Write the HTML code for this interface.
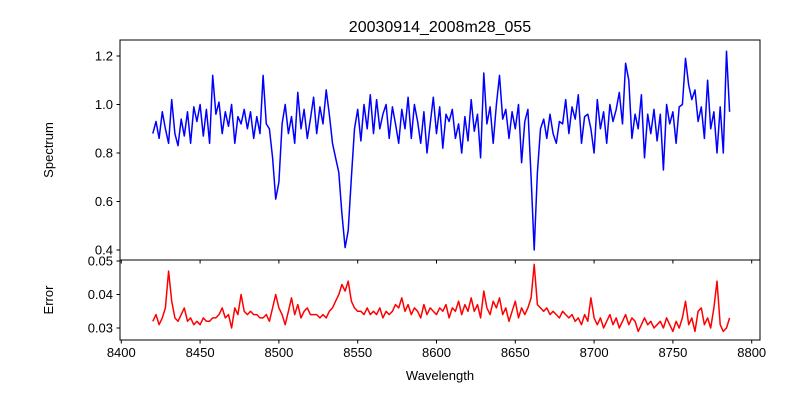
<!DOCTYPE html>
<html><head><meta charset="utf-8"><style>
body{margin:0;background:#fff}
svg text{font-family:"Liberation Sans","DejaVu Sans",sans-serif;fill:#000}
</style></head><body>
<svg id="chart" width="800" height="400" viewBox="0 0 800 400">
<rect width="800" height="400" fill="#fff"/>
<text x="440" y="32" font-size="16" text-anchor="middle">20030914_2008m28_055</text>
<g id="top"></g><g id="bot"></g>
<text transform="translate(53,150) rotate(-90)" font-size="13" text-anchor="middle">Spectrum</text>
<text transform="translate(53,300) rotate(-90)" font-size="13" text-anchor="middle">Error</text>
<text x="440" y="380" font-size="13" text-anchor="middle">Wavelength</text>
</svg>
<script>
const wlStart=8420, wlStep=2;
const flux=[0.88,0.93,0.86,0.97,0.90,0.84,1.02,0.88,0.83,0.94,
0.87,0.97,0.84,0.99,0.93,1.00,0.87,0.98,0.84,1.12,
0.96,1.01,0.88,0.97,0.91,1.00,0.84,0.95,0.92,0.98,
0.90,0.97,0.86,0.95,0.88,1.12,0.92,0.90,0.78,0.61,
0.68,0.92,1.00,0.88,0.95,0.84,1.05,0.90,0.98,0.86,
0.94,1.03,0.88,0.99,0.92,1.06,0.96,0.84,0.78,0.72,
0.55,0.41,0.48,0.70,0.90,0.98,0.85,1.00,0.90,1.04,
0.88,1.02,0.90,0.96,1.00,0.86,0.99,0.92,0.84,0.98,
0.90,1.03,0.86,1.00,0.93,0.84,0.97,0.80,0.92,1.03,
0.88,0.99,0.82,0.96,0.93,0.98,0.86,0.92,0.80,0.95,
0.85,1.02,0.89,0.96,0.78,1.13,0.92,0.99,0.84,1.00,
1.12,0.94,0.98,0.86,0.97,0.90,1.00,0.76,0.93,0.98,
0.70,0.40,0.72,0.90,0.94,0.86,0.96,0.88,0.84,0.93,
0.92,1.02,0.88,0.99,0.94,1.04,0.84,0.95,0.96,0.90,
0.80,1.02,0.90,0.97,0.84,1.00,0.93,0.98,1.05,0.92,
1.17,1.10,0.86,0.96,0.90,1.04,0.78,0.96,0.88,0.98,
0.85,0.96,0.73,1.00,0.92,0.97,0.84,0.99,1.00,1.19,
1.08,1.02,1.06,0.93,0.99,0.86,1.10,0.90,0.97,0.80,
0.99,0.80,1.22,0.97];
const err=[0.032,0.034,0.031,0.033,0.036,0.047,0.038,0.033,0.032,0.034,
0.036,0.032,0.033,0.031,0.032,0.031,0.033,0.032,0.032,0.033,
0.033,0.034,0.036,0.033,0.034,0.030,0.036,0.034,0.040,0.035,
0.034,0.035,0.034,0.034,0.033,0.033,0.034,0.032,0.036,0.040,
0.036,0.034,0.031,0.035,0.039,0.034,0.037,0.033,0.035,0.036,
0.034,0.034,0.034,0.033,0.034,0.033,0.035,0.036,0.038,0.040,
0.043,0.041,0.044,0.038,0.036,0.035,0.035,0.034,0.036,0.034,
0.035,0.034,0.036,0.033,0.035,0.034,0.035,0.037,0.036,0.039,
0.035,0.037,0.034,0.036,0.035,0.033,0.037,0.034,0.036,0.035,
0.034,0.036,0.035,0.037,0.033,0.036,0.035,0.038,0.034,0.037,
0.035,0.039,0.035,0.037,0.033,0.041,0.036,0.034,0.038,0.036,
0.039,0.034,0.036,0.032,0.035,0.038,0.033,0.036,0.034,0.036,
0.039,0.049,0.037,0.036,0.035,0.036,0.034,0.035,0.034,0.033,
0.035,0.034,0.033,0.034,0.032,0.033,0.031,0.034,0.032,0.039,
0.033,0.031,0.033,0.030,0.032,0.034,0.031,0.033,0.030,0.032,
0.034,0.031,0.033,0.032,0.029,0.031,0.033,0.031,0.032,0.030,
0.031,0.032,0.030,0.033,0.031,0.029,0.032,0.030,0.033,0.038,
0.031,0.033,0.029,0.035,0.036,0.031,0.033,0.030,0.036,0.044,
0.031,0.029,0.030,0.033];
const xTicks=[8400,8450,8500,8550,8600,8650,8700,8750,8800];
const fluxTicks=[0.4,0.6,0.8,1.0,1.2];
const errTicks=[0.03,0.04,0.05];
const NS="http://www.w3.org/2000/svg";
const X0=120,X1=760;
const xs=w=>121.3+(w-8400)*1.576;
const yTop=v=>104.5-(v-1)*242.5;
const yBot=v=>261+(0.05-v)*3350;
function mk(p,tag,attrs){const e=document.createElementNS(NS,tag);for(const k in attrs)e.setAttribute(k,attrs[k]);p.appendChild(e);return e;}
function panel(g,y0,y1,ys,vals,color,ticks,fmt,nm,showX){
  const pts=vals.map((v,i)=>xs(wlStart+i*wlStep).toFixed(1)+","+ys(v).toFixed(1)).join(" ");
  const line=mk(g,"polyline",{points:pts,fill:"none",stroke:color,"stroke-width":1.5,"stroke-linejoin":"round"});
  
  
  const fr=mk(g,"rect",{x:X0,y:y0,width:X1-X0,height:y1-y0,fill:"none",stroke:"#000","stroke-width":1});
  
  
  ticks.forEach(t=>{const y=ys(t);
    mk(g,"line",{x1:X0-3.5,x2:X0,y1:y,y2:y,stroke:"#000"});
    const tx=mk(g,"text",{x:X0-7,y:y+4.5,"font-size":13,"text-anchor":"end"});
    tx.textContent=fmt(t);
    
    
  });
  xTicks.forEach(t=>{const x=xs(t);
    mk(g,"line",{x1:x,x2:x,y1:y1,y2:y1+3.5,stroke:"#000"});
    if(showX){const tx=mk(g,"text",{x:x,y:y1+17,"font-size":13,"text-anchor":"middle"});
      tx.textContent=t;
      
      }
  });
}
panel(document.getElementById("top"),40,260,yTop,flux,"#0000ff",fluxTicks,t=>t.toFixed(1),"spectrum",false);
panel(document.getElementById("bot"),260,340,yBot,err,"#ff0000",errTicks,t=>t.toFixed(2),"error",true);
</script>
</body></html>
